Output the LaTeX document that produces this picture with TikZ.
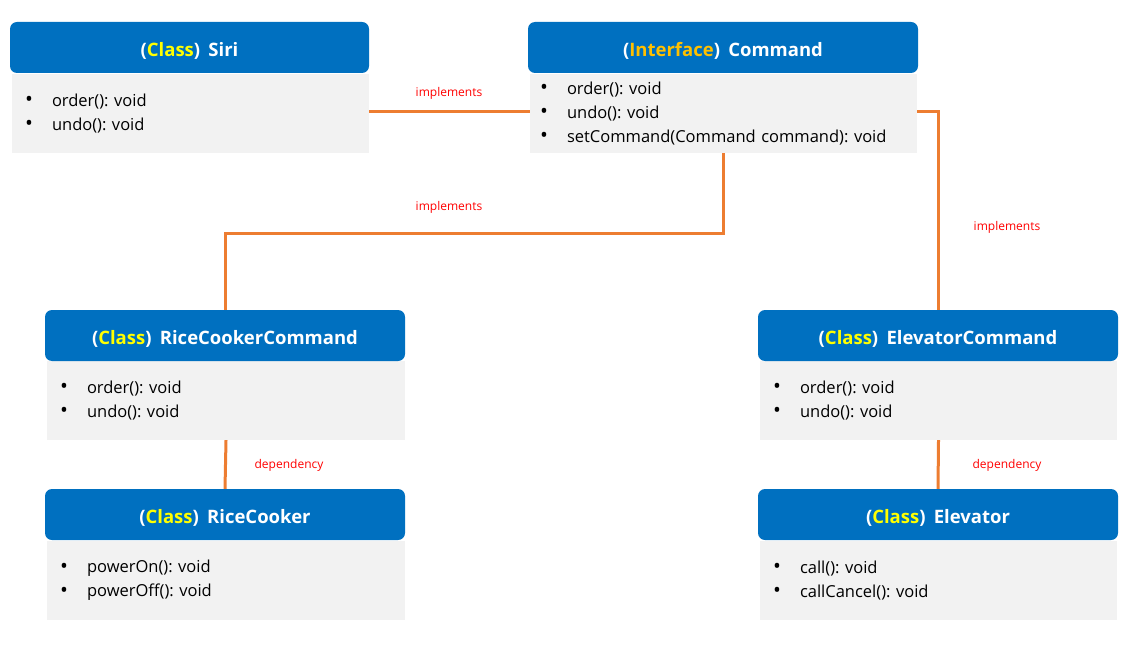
\documentclass[tikz,border=0pt]{standalone}
\usepackage{fontspec}
\setmainfont{Open Sans}
\frenchspacing
\definecolor{hdblue}{HTML}{0070C0}
\definecolor{bodygray}{HTML}{F2F2F2}
\definecolor{lineor}{HTML}{ED7D31}
\definecolor{clsy}{HTML}{FFFF00}
\definecolor{ify}{HTML}{FFC000}
\newcommand{\hdtext}[3]{(\textcolor{#1}{#2})\hspace{0.45em}#3}
\newcommand{\itm}[1]{\makebox[27pt][l]{\raisebox{-0.5pt}{\fontsize{21}{24}\selectfont•}}#1}
\tikzset{
  hdr/.style={rectangle, rounded corners=7pt, fill=hdblue, text=white, minimum height=51pt, inner sep=0pt, text height=18pt, text depth=0pt, font=\bfseries\fontsize{18.5}{20}\selectfont},
  bodybox/.style={rectangle, fill=bodygray, minimum height=79pt, inner ysep=0pt, align=left, font=\fontsize{16.5}{24}\selectfont},
  conn/.style={draw=lineor, line width=3pt},
  lbl/.style={text=red, font=\fontsize{12}{14}\selectfont, inner sep=0pt}
}
\begin{document}
\begin{tikzpicture}[x=1pt,y=-1pt]
\useasboundingbox (0,0) rectangle (1147,652);
% Siri
\node[bodybox, minimum width=357pt, text width=331pt, inner xsep=13pt] (siriB) at (190.5,113.5) {\itm{order(): void}\\\itm{undo(): void}};
\node[hdr, minimum width=359pt] (siriH) at (189.5,47.5) {\hdtext{clsy}{Class}{Siri}};
% Command
\node[bodybox, minimum width=387pt, text width=367pt, inner xsep=10pt] (cmdB) at (723.5,113.5) {\itm{order(): void}\\\itm{undo(): void}\\\itm{setCommand(Command command): void}};
\node[hdr, minimum width=390pt] (cmdH) at (723,47.5) {\hdtext{ify}{Interface}{Command}};
% RiceCookerCommand
\node[bodybox, minimum width=358pt, minimum height=79pt, text width=332pt, inner xsep=13pt] (rccB) at (226,400.5) {\itm{order(): void}\\\itm{undo(): void}};
\node[hdr, minimum width=360pt] (rccH) at (225,335.5) {\hdtext{clsy}{Class}{RiceCookerCommand}};
% RiceCooker
\node[bodybox, minimum width=358pt, text width=332pt, inner xsep=13pt] (rcB) at (226,580.5) {\itm{powerOn(): void}\\\itm{powerOff(): void}};
\node[hdr, minimum width=360pt] (rcH) at (225,514.5) {\hdtext{clsy}{Class}{RiceCooker}};
% ElevatorCommand
\node[bodybox, minimum width=357pt, minimum height=79pt, text width=331pt, inner xsep=13pt] (ecB) at (938.5,400.5) {\itm{order(): void}\\\itm{undo(): void}};
\node[hdr, minimum width=360pt] (ecH) at (938,335.5) {\hdtext{clsy}{Class}{ElevatorCommand}};
% Elevator
\node[bodybox, minimum width=357pt, text width=331pt, inner xsep=13pt] (elB) at (938.5,580.5) {\itm{call(): void}\\\itm{callCancel(): void}};
\node[hdr, minimum width=360pt] (elH) at (938,514.5) {\hdtext{clsy}{Class}{Elevator}};
% connectors
\draw[conn] (siriB.east |- 0,112) -- (cmdB.west |- 0,112);
\draw[conn] (cmdB.south) -- ++(0,80) -| (rccH.north);
\draw[conn] (cmdB.east |- 0,112) -- (ecH.north |- 0,112) -- (ecH.north);
\draw[conn] (rccB.south) -- (rcH.north);
\draw[conn] (ecB.south) -- (elH.north);
% labels
\node[lbl] (l1) at (449,93) {implements};
\node[lbl] (l2) at (449,207) {implements};
\node[lbl] (l3) at (1007,227) {implements};
\node[lbl] (l4) at (289,465) {dependency};
\node[lbl] (l5) at (1007,465) {dependency};
\end{tikzpicture}
\end{document}
